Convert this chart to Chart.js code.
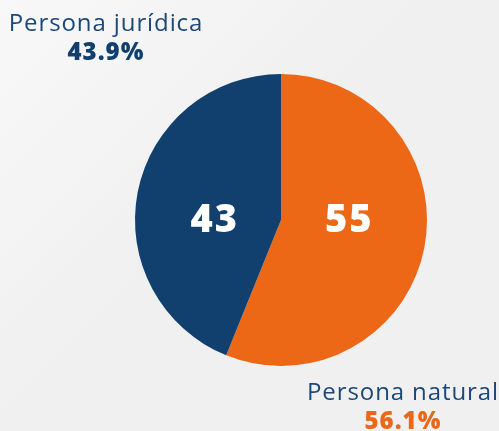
<!DOCTYPE html>
<html>
<head>
<meta charset="utf-8">
<script src="https://cdn.jsdelivr.net/npm/chart.js@4.4.0/dist/chart.umd.min.js"></script>
<style>
  html, body { margin: 0; padding: 0; }
  body {
    width: 499px; height: 431px; overflow: hidden; position: relative;
    background: linear-gradient(135deg, #f8f8f9 0%, #f0f0f1 45%, #f0f0f1 100%);
    font-family: "Open Sans", sans-serif;
  }
  #wrap { position: absolute; left: 0; top: 0; width: 499px; height: 431px; }
  .lbl { position: absolute; text-align: center; line-height: 1; white-space: nowrap; }
  .lbl .name { font-size: 24px; font-weight: 400; letter-spacing: 0.9px; }
  .lbl .pct { font-size: 24px; font-weight: 800; margin-top: 5px; letter-spacing: 1px; }
</style>
</head>
<body>
<div id="wrap"><canvas id="chart1"></canvas></div>
<div class="lbl" style="left:6px; top:10px; width:200px; color:#1b4878;">
  <div class="name">Persona jurídica</div>
  <div class="pct" style="color:#12406e;">43.9%</div>
</div>
<div class="lbl" style="left:303px; top:379px; width:200px; color:#1b4878;">
  <div class="name">Persona natural</div>
  <div class="pct" style="color:#ec6816;">56.1%</div>
</div>
<script>
var categories = ['Persona natural', 'Persona jurídica'];
var counts = [55, 43];
var colors = ['#ec6816', '#12406e'];

// numbers drawn inside each slice, level with the centre
var sliceLabels = {
  id: 'sliceLabels',
  afterDatasetsDraw: function(chart) {
    var ctx = chart.ctx;
    var meta = chart.getDatasetMeta(0);
    ctx.save();
    ctx.fillStyle = '#ffffff';
    ctx.font = '800 38px "Open Sans", sans-serif';
    ctx.letterSpacing = '2px';
    ctx.textAlign = 'center';
    ctx.textBaseline = 'middle';
    meta.data.forEach(function(arc, i) {
      var mid = (arc.startAngle + arc.endAngle) / 2;
      var x = arc.x + Math.cos(mid) * arc.outerRadius * 0.47;
      ctx.fillText(String(counts[i]), x + 1, arc.y + 1);
    });
    ctx.restore();
  }
};

var ctx = document.getElementById('chart1').getContext('2d');
var chart = new Chart(ctx, {
  type: 'pie',
  data: {
    labels: categories,
    datasets: [{
      data: counts,
      backgroundColor: colors,
      borderWidth: 0
    }]
  },
  options: {
    responsive: true,
    maintainAspectRatio: false,
    animation: false,
    layout: { padding: { left: 135, right: 72, top: 74, bottom: 65 } },
    plugins: {
      legend: { display: false },
      tooltip: { enabled: false }
    }
  },
  plugins: [sliceLabels]
});
</script>
</body>
</html>
